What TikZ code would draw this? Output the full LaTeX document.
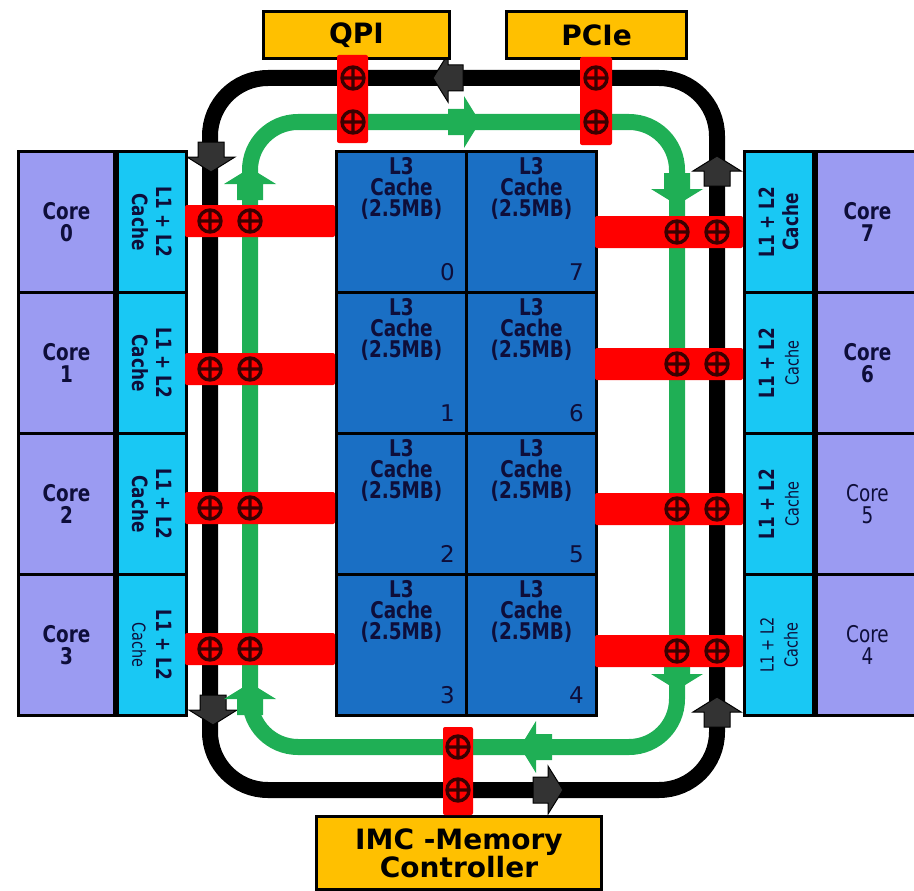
\documentclass[tikz,border=0pt]{standalone}
\usepackage{fontspec}
\setmainfont{DejaVu Sans}[FakeStretch=0.8]
\newfontfamily\boxfont{DejaVu Sans}
\usetikzlibrary{positioning}
\definecolor{coreviolet}{HTML}{9B9BF2}
\definecolor{cachecyan}{HTML}{19C8F4}
\definecolor{lthreeblue}{HTML}{1A6FC4}
\definecolor{ioyellow}{HTML}{FFC000}
\definecolor{stopred}{HTML}{FF0000}
\definecolor{ringgreen}{HTML}{1FAF55}
\definecolor{arrowgray}{HTML}{333333}
\definecolor{textnavy}{HTML}{0E0E3A}
\definecolor{stopdark}{HTML}{3A0000}

\begin{document}
\begin{tikzpicture}[x=1pt, y=-1pt,
    box/.style={draw=black, line width=3pt, inner sep=0pt, anchor=north west, text=textnavy, align=center},
    corebox/.style={box, fill=coreviolet, minimum width=96, minimum height=141, font=\fontsize{23}{22}\selectfont},
    l12box/.style={box, fill=cachecyan, minimum width=69, minimum height=141},
    l12text/.style={text=textnavy, align=center, inner sep=0pt, font=\fontsize{21}{24}\selectfont},
    lthreebox/.style={box, fill=lthreeblue, minimum width=130, minimum height=141},
    lthreetext/.style={text=textnavy, align=center, inner sep=0pt, font=\fontsize{23}{21}\selectfont\bfseries},
    cachenum/.style={text=textnavy, inner sep=0pt, anchor=south east, font=\boxfont\fontsize{23}{23}\selectfont},
    iobox/.style={box, fill=ioyellow, text=black, font=\boxfont\fontsize{28}{28}\selectfont\bfseries},
    blackring/.style={draw=black, line width=16pt, rounded corners=58},
    greenring/.style={draw=ringgreen, line width=16pt, rounded corners=48},
    blackhead/.style={fill=arrowgray, draw=black, line width=1pt},
    greenhead/.style={fill=ringgreen},
    stopbar/.style={fill=stopred, rounded corners=2},
    stopmark/.style={draw=stopdark, line width=3.4pt}
  ]
  \useasboundingbox (0,0) rectangle (914,891);

  % the two rings
  \draw[blackring] (210,78) rectangle (717,790);
  \draw[greenring] (250,122) rectangle (677,747);

  % ring direction heads
  \foreach \x/\y/\a in {433/78/180, 211/172/-90, 717/156/90, 213/725/-90, 717/697/90, 563/790/0}
    \draw[blackhead, shift={(\x,\y)}, rotate=\a] (0,0) -- (-15,24) -- (-15,13) -- (-30,13) -- (-30,-13) -- (-15,-13) -- (-15,-24) -- cycle;
  \foreach \x/\y/\a in {480/122/0, 250/168/90, 677/205/-90, 250/683/90, 677/690/-90, 520/747/180}
    \fill[greenhead, shift={(\x,\y)}, rotate=\a] (0,0) -- (-16,26) -- (-16,13) -- (-32,13) -- (-32,-13) -- (-16,-13) -- (-16,-26) -- cycle;

  % QPI, PCIe, memory controller
  \node[iobox, minimum width=186, minimum height=47] (qpi) at (262,10) {QPI};
  \node[iobox, minimum width=180, minimum height=47] (pcie) at (505,10) {PCIe};
  \node[iobox, minimum width=285, minimum height=73] (imc) at (315,815) {IMC -Memory\\Controller};

  % cores 0-3 with their L1+L2
  \foreach \n/\top/\wa/\wb in {0/150/\bfseries/\bfseries, 1/291/\bfseries/\bfseries, 2/432/\bfseries/\bfseries, 3/573/\bfseries/{\mdseries\fontsize{18}{24}\selectfont}} {
    \node[corebox, font=\fontsize{23}{22}\selectfont\bfseries] (core\n) at (17,\top) {Core\\\n};
    \node[l12box, right=0pt of core\n] (lcache\n) {};
    \node[l12text, rotate=-90] at (lcache\n) {{\wa L1 + L2}\\{\wb Cache}};
  }

  % cores 7-4 with their L1+L2
  \foreach \n/\top/\cw/\wa/\wb in {7/150/\bfseries/\bfseries/\bfseries, 6/291/\bfseries/\bfseries/{\mdseries\fontsize{18}{24}\selectfont}, 5/432/\mdseries/\bfseries/{\mdseries\fontsize{18}{24}\selectfont}, 4/573/\mdseries/{\mdseries\fontsize{18}{24}\selectfont}/{\mdseries\fontsize{18}{24}\selectfont}} {
    \node[l12box] (lcache\n) at (743,\top) {};
    \node[l12text, rotate=90] at (lcache\n) {{\wa L1 + L2}\\{\wb Cache}};
    \node[corebox, minimum width=102, right=0pt of lcache\n] (core\n) {{\cw Core}\\{\cw\n}};
  }

  % L3 slices
  \foreach \n/\top in {0/150, 1/291, 2/432, 3/573} {
    \node[lthreebox] (slice\n) at (335,\top) {};
    \node[lthreetext, below=7pt of slice\n.north] {L3\\Cache\\(2.5MB)};
    \node[cachenum] at ([xshift=-13pt, yshift=13pt]slice\n.south east) {\n};
  }
  \foreach \n/\top in {7/150, 6/291, 5/432, 4/573} {
    \node[lthreebox] (slice\n) at (465,\top) {};
    \node[lthreetext, below=7pt of slice\n.north] {L3\\Cache\\(2.5MB)};
    \node[cachenum] at ([xshift=-14pt, yshift=13pt]slice\n.south east) {\n};
  }

  % ring stops
  \foreach \y in {221,369,508,649} {
    \fill[stopbar] (185,\y-16) rectangle (335,\y+16);
    \foreach \x in {210,250}
      \draw[stopmark] (\x,\y) circle[radius=11] +(-11,0) -- +(11,0) +(0,-11) -- +(0,11);
  }
  \foreach \y in {232,364,509,651} {
    \fill[stopbar] (595,\y-16) rectangle (743,\y+16);
    \foreach \x in {677,717}
      \draw[stopmark] (\x,\y) circle[radius=11] +(-11,0) -- +(11,0) +(0,-11) -- +(0,11);
  }
  \fill[stopbar] (337,55) rectangle (368,143);
  \fill[stopbar] (580,57) rectangle (612,145);
  \fill[stopbar] (443,727) rectangle (473,815);
  \foreach \x/\y in {353/78, 353/122, 596/78, 596/122, 458/747, 458/790}
    \draw[stopmark] (\x,\y) circle[radius=11] +(-11,0) -- +(11,0) +(0,-11) -- +(0,11);
\end{tikzpicture}
\end{document}
